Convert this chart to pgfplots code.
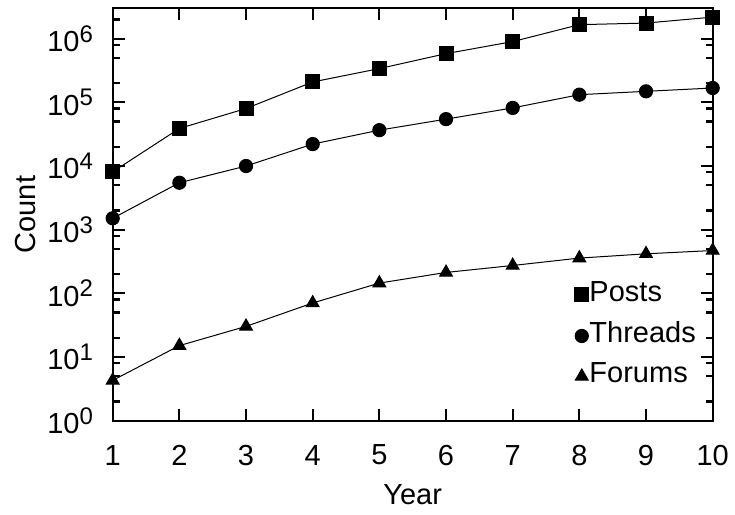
\documentclass[border=0pt]{standalone}
\usepackage{fontspec}
\setmainfont{Liberation Sans}
\usepackage{pgfplots}
\pgfplotsset{compat=1.18}
\newcommand\E[1]{10\raisebox{4.8pt}{\fontsize{12}{12}\selectfont #1}}
\begin{document}
\begin{tikzpicture}
\begin{axis}[
  scale only axis, width=300pt, height=206.2pt,
  at={(0,0)}, anchor=south west,
  ymode=log, xmin=1, xmax=10, ymin=1, ymax=3e6,
  clip=false,
  /pgf/number format/assume math mode=true,
  xtick={1,2,3,4,5,6,7,8,9,10},
  ytick={1,10,100,1000,10000,100000,1000000},
  yticklabels={\E{0},\E{1},\E{2},\E{3},\E{4},\E{5},\E{6}},
  minor ytick={2,5,8,20,50,80,200,500,800,2000,5000,8000,20000,50000,80000,200000,500000,800000,2000000},
  tick align=inside, xtick pos=both, ytick pos=both,
  major tick length=6pt, minor tick length=3.5pt,
  axis line style={line width=1.15pt},
  every tick/.append style={line width=1.1pt, black},
  tick label style={font=\fontsize{14.5}{17}\selectfont},
  label style={font=\fontsize{14.5}{17}\selectfont},
  xticklabel style={anchor=center, inner sep=0pt, yshift=-17.2pt},
  yticklabel style={anchor=east, inner sep=0pt, xshift=-9.7pt},
  xlabel={Year}, ylabel={Count},
  xlabel style={at={(axis description cs:0.5,-0.180)}, anchor=center, inner sep=0pt},
  ylabel style={at={(axis description cs:-0.1445,0.5)}, anchor=center, inner sep=0pt},
  legend style={at={(axis description cs:0.769,0.3382)}, anchor=north west,
    draw=none, fill=none, inner sep=0pt, outer sep=0pt,
    row sep=8.7pt, column sep=0pt,
    font=\fontsize{14.5}{17}\selectfont,
    nodes={inner sep=0pt, outer sep=0pt},
    cells={anchor=base west, inner sep=0pt}},
  legend image code/.code={\path[#1] plot coordinates {(0pt,3.3pt)}; \path (-3.6pt,0pt) (3.6pt,0pt);},
]
\addplot[black, line width=0.5pt, mark=square*, mark size=3.5pt, mark options={solid}] coordinates {
(1,8100) (2,38900) (3,80000) (4,209000) (5,339000) (6,582000) (7,900000) (8,1660000) (9,1760000) (10,2180000)};
\addlegendentry{Posts}
\addplot[black, line width=0.5pt, mark=*, mark size=3.3pt, mark options={solid}] coordinates {
(1,1510) (2,5460) (3,10000) (4,22100) (5,36600) (6,54500) (7,81800) (8,132000) (9,149000) (10,168000)};
\addlegendentry{Threads}
\addplot[black, line width=0.5pt, mark=triangle*, mark size=3.67pt, mark options={solid}] coordinates {
(1,4.3) (2,15.1) (3,30.3) (4,70.6) (5,145) (6,213) (7,274) (8,358) (9,418) (10,471)};
\addlegendentry{Forums}
\end{axis}
\pgfresetboundingbox
\path[use as bounding box] (-56.35pt,-47.15pt) rectangle (311.15pt,210.35pt);
\end{tikzpicture}
\end{document}
